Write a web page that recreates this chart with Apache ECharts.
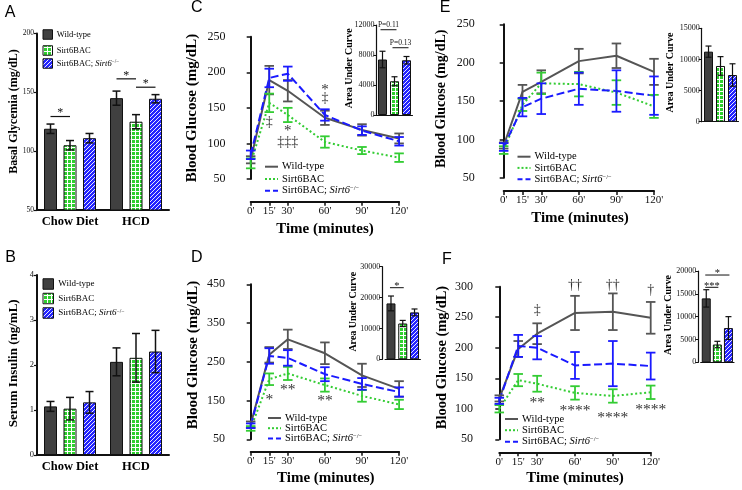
<!DOCTYPE html>
<html>
<head>
<meta charset="utf-8">
<script src="https://cdn.jsdelivr.net/npm/echarts@6.0.0/dist/echarts.min.js"></script>
<style>
html,body{margin:0;padding:0;background:#fff;}
#chart{width:742px;height:490px;}
</style>
</head>
<body>
<div id="chart"></div>
<script>
// ---------------- data ----------------
const groupLabels = ['Wild-type', 'Sirt6BAC', 'Sirt6BAC; {i|Sirt6}{s|−/−}'];
const dietCategories = ['Chow Diet', 'HCD'];

const basalTicks = [50, 100, 150, 200];
const basalWT = [119, 145];
const basalWTErr = [4, 6];
const basalBAC = [105, 125];
const basalBACErr = [4, 6];
const basalKO = [111, 144.5];
const basalKOErr = [4, 3.5];
// [category, fromBar, toBar, y, label]
const basalSig = [[0, 0, 1, 129.4, '*'], [1, 0, 1, 161.4, '*'], [1, 1, 2, 154.3, '*']];

const insulinTicks = [0, 1, 2, 3, 4];
const insulinWT = [1.08, 2.07];
const insulinWTErr = [0.11, 0.31];
const insulinBAC = [1.03, 2.16];
const insulinBACErr = [0.25, 0.54];
const insulinKO = [1.17, 2.30];
const insulinKOErr = [0.24, 0.47];

const timePoints = [0, 15, 30, 60, 90, 120];
const timeLabels = ["0'", "15'", "30'", "60'", "90'", "120'"];
const aucGroups = ['Wild-type', 'Sirt6BAC', 'Sirt6BAC; Sirt6-/-'];

// panel C
const cYTicks = [50, 100, 150, 200, 250];
const cWT = [77, 189, 174, 136, 119, 107];
const cWTErr = [5, 20, 15, 10, 8, 7];
const cBAC = [72, 157, 140, 102, 90, 80];
const cBACErr = [7, 13, 10, 8, 5, 6];
const cKO = [84, 192, 198, 140, 118, 103];
const cKOErr = [6, 13, 10, 8, 6, 6];
const cMarks = [[15, 130, '‡'], [30, 121.7, '*'], [30, 102, '‡‡‡'], [60, 179, '*'], [60, 164, '‡']];
const cAUCTicks = [0, 4000, 8000, 12000];
const cAUC = [7400, 4500, 7300];
const cAUCErr = [1100, 600, 500];
const cAUCSig = [[0, 1, 11370, 'P=0.11'], [1, 2, 8970, 'P=0.13']];

// panel D
const dYTicks = [50, 150, 250, 350, 450];
const dWT = [88, 268, 308, 272, 215, 180];
const dWTErr = [8, 20, 25, 28, 30, 20];
const dBAC = [78, 205, 220, 190, 162, 140];
const dBACErr = [6, 15, 17, 17, 15, 12];
const dKO = [85, 265, 260, 218, 193, 172];
const dKOErr = [6, 20, 20, 18, 15, 12];
const dMarks = [[15, 160, '*'], [30, 186, '**'], [60, 156, '**']];
const dAUCTicks = [0, 10000, 20000, 30000];
const dAUC = [18100, 11600, 15200];
const dAUCErr = [2400, 1000, 1100];
const dAUCSig = [[0, 1, 23200, '*']];

// panel E
const eYTicks = [50, 100, 150, 200, 250];
const eWT = [92, 162, 175, 202, 209, 188];
const eWTErr = [4, 9, 15, 16, 16, 17];
const eBAC = [86, 145, 173, 172, 161, 143];
const eBACErr = [5, 8, 14, 16, 16, 15];
const eKO = [90, 142, 153, 166, 163, 157];
const eKOErr = [5, 12, 20, 21, 27, 25];
const eAUCTicks = [0, 5000, 10000, 15000];
const eAUC = [11250, 8950, 7500];
const eAUCErr = [900, 1500, 1800];

// panel F
const fYTicks = [50, 100, 150, 200, 250, 300];
const fWT = [117, 198, 223, 257, 259, 249];
const fWTErr = [5, 13, 17, 28, 30, 26];
const fBAC = [100, 147, 141, 126, 121, 127];
const fBACErr = [6, 10, 13, 11, 11, 11];
const fKO = [113, 203, 200, 171, 174, 170];
const fKOErr = [5, 18, 19, 22, 37, 22];
const fMarks = [[30, 261.8, '‡'], [60, 301.6, '††'], [90, 301.6, '††'], [120, 293.5, '†'],
                [30, 114.4, '**'], [60, 100.8, '****'], [90, 90, '****'], [120, 103.4, '****']];
const fAUCTicks = [0, 5000, 10000, 15000, 20000];
const fAUC = [14000, 3900, 7500];
const fAUCErr = [1900, 700, 2500];
const fAUCSig = [[0, 1, 16430, '***'], [0, 2, 19120, '*']];

// ---------------- styles ----------------
const SERIF = 'Liberation Serif';
const GRAY = '#555555', GREEN = '#33cc33', BLUE = '#1a1aff', BARGRAY = '#404040';

function makeGreenPattern() {
  const c = document.createElement('canvas'); c.width = 4; c.height = 4;
  const g = c.getContext('2d');
  g.fillStyle = '#2fcf2f'; g.fillRect(0, 0, 4, 4);
  g.fillStyle = '#ffffff'; g.fillRect(3, 0, 1, 4); g.fillRect(0, 3, 4, 1);
  return c;
}
function makeBluePattern() {
  const c = document.createElement('canvas'); c.width = 4; c.height = 4;
  const g = c.getContext('2d');
  g.fillStyle = '#2424ff'; g.fillRect(0, 0, 4, 4);
  g.strokeStyle = '#ffffff'; g.lineWidth = 0.9;
  g.beginPath();
  g.moveTo(-1, 5); g.lineTo(5, -1);
  g.moveTo(-1, 1); g.lineTo(1, -1);
  g.moveTo(3, 5); g.lineTo(5, 3);
  g.stroke();
  return c;
}
const patG = {image: makeGreenPattern(), repeat: 'repeat'};
const patB = {image: makeBluePattern(), repeat: 'repeat'};
const barFills = [BARGRAY, patG, patB];

const grids = [
  {left: 37, top: 33.4, width: 132, height: 176.6},      // A
  {left: 37, top: 275, width: 132, height: 180},         // B
  {left: 250.7, top: 36.7, width: 148.4, height: 142.3}, // C
  {left: 376.5, top: 25, width: 36, height: 90},         // C inset
  {left: 250.7, top: 284.3, width: 148.4, height: 155},  // D
  {left: 385.1, top: 266.7, width: 35.3, height: 92.6},  // D inset
  {left: 503.7, top: 24.3, width: 150.3, height: 153.4}, // E
  {left: 702.5, top: 28.3, width: 36, height: 93.4},     // E inset
  {left: 499.3, top: 286.7, width: 151.4, height: 152.6},// F
  {left: 700.7, top: 271, width: 33.3, height: 91.3}     // F inset
].map(g => Object.assign({outerBoundsMode: 'none', containLabel: false}, g));

function valueY(gi, ticks, opt) {
  const step = ticks[1] - ticks[0];
  const a = {
    gridIndex: gi, type: 'value', min: ticks[0], max: ticks[ticks.length - 1],
    offset: opt.offset || 0,
    axisLine: {show: true, lineStyle: {color: '#111', width: opt.lw || 2}},
    axisTick: {show: true, length: opt.tl || 4, customValues: ticks, lineStyle: {color: '#111', width: opt.tw || 1.5}},
    axisLabel: {customValues: ticks, formatter: v => String(v), fontFamily: SERIF, fontSize: opt.fs, color: '#111', margin: opt.margin || 3},
    splitLine: {show: false}
  };
  if (ticks[0] % step === 0) a.interval = step;
  return a;
}
function timeX(gi, offset) {
  return {
    gridIndex: gi, type: 'value', min: timePoints[0], max: timePoints[timePoints.length - 1], offset: offset,
    axisLine: {show: true, lineStyle: {color: '#111', width: 2}},
    axisTick: {show: true, length: 4, customValues: timePoints, lineStyle: {color: '#111', width: 1.5}},
    axisLabel: {customValues: timePoints, formatter: v => timeLabels[timePoints.indexOf(v)] || '',
      fontFamily: SERIF, fontSize: 11, color: '#111', margin: 4},
    splitLine: {show: false}
  };
}
function catX(gi, cats, showLabel) {
  return {
    gridIndex: gi, type: 'category', data: cats,
    axisLine: {show: true, lineStyle: {color: '#111', width: showLabel ? 2 : 1.2}},
    axisTick: {show: false},
    axisLabel: {show: showLabel, interval: 0, hideOverlap: false, fontFamily: SERIF, fontWeight: 'bold', fontSize: 12.5, color: '#000', margin: 5},
    splitLine: {show: false}
  };
}

function errBars(xi, yi, xs, means, errs, color, capW, lw, offset) {
  return {
    type: 'custom', xAxisIndex: xi, yAxisIndex: yi, z: 5, silent: true,
    data: xs.map((x, i) => [x, means[i], errs[i]]),
    renderItem: function (params, api) {
      const x = api.value(0), m = api.value(1), e = api.value(2);
      const p1 = api.coord([x, m + e]), p2 = api.coord([x, m - e]);
      const cx = p1[0] + (offset || 0);
      const st = () => ({stroke: color, lineWidth: lw});
      return {type: 'group', children: [
        {type: 'line', shape: {x1: cx, y1: p1[1], x2: cx, y2: p2[1]}, style: st()},
        {type: 'line', shape: {x1: cx - capW / 2, y1: p1[1], x2: cx + capW / 2, y2: p1[1]}, style: st()},
        {type: 'line', shape: {x1: cx - capW / 2, y1: p2[1], x2: cx + capW / 2, y2: p2[1]}, style: st()}
      ]};
    }
  };
}
function lineSeries(xi, yi, name, vals, color, dash) {
  return {
    type: 'line', name: name, xAxisIndex: xi, yAxisIndex: yi, z: 4,
    data: timePoints.map((t, i) => [t, vals[i]]),
    symbol: 'none', lineStyle: {color: color, width: 2, type: dash || 'solid'},
    silent: true
  };
}
function markSeries(xi, yi, marks, fs, starFs) {
  return {
    type: 'custom', xAxisIndex: xi, yAxisIndex: yi, z: 6, silent: true,
    data: marks.map(m => [m[0], m[1]]),
    renderItem: function (params, api) {
      const p = api.coord([api.value(0), api.value(1)]);
      const t = marks[params.dataIndex][2];
      const star = t.indexOf('*') >= 0;
      const size = star ? (starFs || fs) : fs;
      return {type: 'text', x: p[0], y: p[1] + (star ? size * 0.2 : 0),
        style: {text: t, fontFamily: SERIF, fontSize: size, fill: '#333', textAlign: 'center', textVerticalAlign: 'middle'}};
    }
  };
}
const BAR_PITCH = 19.5;
function basalSigSeries(xi, yi, sig) {
  return {
    type: 'custom', xAxisIndex: xi, yAxisIndex: yi, z: 6, silent: true,
    data: sig.map(s => [s[0], s[3]]),
    renderItem: function (params, api) {
      const s = sig[params.dataIndex];
      const p = api.coord([api.value(0), api.value(1)]);
      const x1 = p[0] + (s[1] - 1) * BAR_PITCH, x2 = p[0] + (s[2] - 1) * BAR_PITCH;
      return {type: 'group', children: [
        {type: 'line', shape: {x1: x1, y1: p[1], x2: x2, y2: p[1]}, style: {stroke: '#111', lineWidth: 1.2}},
        {type: 'text', x: (x1 + x2) / 2, y: p[1] - 3.5,
          style: {text: s[4], fontFamily: SERIF, fontSize: 12, fill: '#111', textAlign: 'center', textVerticalAlign: 'middle'}}
      ]};
    }
  };
}
function aucSigSeries(xi, yi, sig, ext) {
  return {
    type: 'custom', xAxisIndex: xi, yAxisIndex: yi, z: 6, silent: true,
    data: sig.map(s => [s[0], s[2]]),
    renderItem: function (params, api) {
      const s = sig[params.dataIndex];
      const p1 = api.coord([s[0], s[2]]), p2 = api.coord([s[1], s[2]]);
      const star = s[3].indexOf('*') >= 0;
      return {type: 'group', children: [
        {type: 'line', shape: {x1: p1[0] - ext, y1: p1[1], x2: p2[0] + ext, y2: p1[1]}, style: {stroke: '#111', lineWidth: 1}},
        {type: 'text', x: (p1[0] + p2[0]) / 2, y: p1[1] - (star ? 1.5 : 1),
          style: {text: s[3], fontFamily: SERIF, fontSize: star ? 10.5 : 7.5, fill: '#111', textAlign: 'center', textVerticalAlign: star ? 'middle' : 'bottom'}}
      ]};
    }
  };
}
function groupedBars(xi, yi, vals, fillIdx) {
  return {
    type: 'bar', xAxisIndex: xi, yAxisIndex: yi, data: vals, barWidth: 13, barGap: '50%', z: 3, silent: true,
    itemStyle: {color: barFills[fillIdx], borderColor: '#111', borderWidth: 1}
  };
}
function aucBars(xi, yi, vals) {
  return {
    type: 'bar', xAxisIndex: xi, yAxisIndex: yi, barWidth: 9, z: 3, silent: true,
    data: vals.map((v, i) => ({value: v, itemStyle: {color: barFills[i], borderColor: '#111', borderWidth: 1}}))
  };
}

// ---------------- graphic (titles, legends, letters) ----------------
function txt(x, y, text, font, rot) {
  return {type: 'text', x: x, y: y, rotation: rot ? Math.PI / 2 : 0, silent: true,
    style: {text: text, font: font, fill: '#000', textAlign: 'center', textVerticalAlign: 'middle'}};
}
function richStyle(fs) {
  return {
    i: {fontFamily: SERIF, fontSize: fs, fontStyle: 'italic', fill: '#000'},
    s: {fontFamily: SERIF, fontSize: fs * 0.62, fill: '#000', verticalAlign: 'top'}
  };
}
function lineLegend(x, ys, fs) {
  const st = [{c: GRAY, d: null}, {c: GREEN, d: [2, 2]}, {c: BLUE, d: [5, 3]}];
  const out = [];
  ys.forEach((yy, i) => {
    out.push({type: 'line', silent: true, shape: {x1: x, y1: yy, x2: x + 13, y2: yy},
      style: {stroke: st[i].c, lineWidth: 2, lineDash: st[i].d}});
    out.push({type: 'text', x: x + 17, y: yy, silent: true,
      style: {text: groupLabels[i], fontFamily: SERIF, fontSize: fs, fill: '#000',
        textAlign: 'left', textVerticalAlign: 'middle', rich: richStyle(fs)}});
  });
  return out;
}
function barLegend(x, ys, sw, fs, tx) {
  const out = [];
  ys.forEach((yy, i) => {
    out.push({type: 'rect', silent: true, shape: {x: x, y: yy - sw / 2, width: sw, height: sw},
      style: {fill: barFills[i], stroke: '#111', lineWidth: 1}});
    out.push({type: 'text', x: tx, y: yy, silent: true,
      style: {text: groupLabels[i], fontFamily: SERIF, fontSize: fs, fill: '#000',
        textAlign: 'left', textVerticalAlign: 'middle', rich: richStyle(fs)}});
  });
  return out;
}

const LETTER = '16px "Liberation Sans"';
const graphics = [
  txt(10, 12.5, 'A', LETTER), txt(10.5, 258, 'B', LETTER),
  txt(196.7, 7.5, 'C', LETTER), txt(196.7, 257.5, 'D', LETTER),
  txt(445, 7.7, 'E', LETTER), txt(447, 259.2, 'F', LETTER),
  txt(14.2, 111.5, 'Basal Glycemia (mg/dL)', 'bold 12px "Liberation Serif"', true),
  txt(14, 363.3, 'Serum Insulin (ng/mL)', 'bold 13px "Liberation Serif"', true),
  txt(192.5, 108, 'Blood Glucose (mg/dL)', 'bold 15px "Liberation Serif"', true),
  txt(192.7, 355, 'Blood Glucose (mg/dL)', 'bold 15px "Liberation Serif"', true),
  txt(441, 98.8, 'Blood Glucose (mg/dL)', 'bold 14px "Liberation Serif"', true),
  txt(442.7, 357.5, 'Blood Glucose (mg/dL)', 'bold 14.5px "Liberation Serif"', true),
  txt(325, 229.3, 'Time (minutes)', 'bold 15px "Liberation Serif"'),
  txt(325.8, 478.3, 'Time (minutes)', 'bold 15px "Liberation Serif"'),
  txt(580, 218.3, 'Time (minutes)', 'bold 15px "Liberation Serif"'),
  txt(575, 478.3, 'Time (minutes)', 'bold 15px "Liberation Serif"'),
  txt(349, 68.3, 'Area Under Curve', 'bold 10px "Liberation Serif"', true),
  txt(353, 311.7, 'Area Under Curve', 'bold 10px "Liberation Serif"', true),
  txt(670, 72.5, 'Area Under Curve', 'bold 10px "Liberation Serif"', true),
  txt(668.7, 315, 'Area Under Curve', 'bold 10px "Liberation Serif"', true)
].concat(
  barLegend(43, [34.5, 50.5, 63.5], 9.5, 8.5, 56.7),
  barLegend(43, [284, 298.5, 313], 10.5, 9, 58.3),
  lineLegend(265, [166.7, 179, 190.7], 10.5),
  lineLegend(268, [418, 428.2, 438.5], 10.5),
  lineLegend(517.5, [156.7, 167.9, 179.3], 10.5),
  lineLegend(505, [419, 430.2, 441.7], 10.5)
);

// ---------------- option ----------------
const xAxes = [
  catX(0, dietCategories, true), catX(1, dietCategories, true),
  timeX(2, 22.7), catX(3, aucGroups, false),
  timeX(4, 12.4), catX(5, aucGroups, false),
  timeX(6, 13.3), catX(7, aucGroups, false),
  timeX(8, 13), catX(9, aucGroups, false)
];
const yAxes = [
  valueY(0, basalTicks, {fs: 7.5, tl: 3, tw: 1.2}),
  valueY(1, insulinTicks, {fs: 8.5, tl: 3, tw: 1.2}),
  valueY(2, cYTicks, {fs: 12, offset: 22.3}),
  valueY(3, cAUCTicks, {fs: 8, lw: 1.2, tl: 3, tw: 1, margin: 2}),
  valueY(4, dYTicks, {fs: 12, offset: 22.7}),
  valueY(5, dAUCTicks, {fs: 8, lw: 1.2, tl: 3, tw: 1, margin: 2, offset: 2.8}),
  valueY(6, eYTicks, {fs: 12, offset: 26}),
  valueY(7, eAUCTicks, {fs: 8, lw: 1.2, tl: 3, tw: 1, margin: 2, offset: 0.8}),
  valueY(8, fYTicks, {fs: 12, offset: 23.3}),
  valueY(9, fAUCTicks, {fs: 8, lw: 1.2, tl: 3, tw: 1, margin: 2, offset: 2.4})
];

const series = [
  // A
  groupedBars(0, 0, basalWT, 0), groupedBars(0, 0, basalBAC, 1), groupedBars(0, 0, basalKO, 2),
  errBars(0, 0, [0, 1], basalWT, basalWTErr, '#111', 8, 1.5, -BAR_PITCH),
  errBars(0, 0, [0, 1], basalBAC, basalBACErr, '#111', 8, 1.5, 0),
  errBars(0, 0, [0, 1], basalKO, basalKOErr, '#111', 8, 1.5, BAR_PITCH),
  basalSigSeries(0, 0, basalSig),
  // B
  groupedBars(1, 1, insulinWT, 0), groupedBars(1, 1, insulinBAC, 1), groupedBars(1, 1, insulinKO, 2),
  errBars(1, 1, [0, 1], insulinWT, insulinWTErr, '#111', 8, 1.5, -BAR_PITCH),
  errBars(1, 1, [0, 1], insulinBAC, insulinBACErr, '#111', 8, 1.5, 0),
  errBars(1, 1, [0, 1], insulinKO, insulinKOErr, '#111', 8, 1.5, BAR_PITCH)
];
function glucosePanel(xi, yi, wt, wtE, bac, bacE, ko, koE) {
  return [
    errBars(xi, yi, timePoints, wt, wtE, GRAY, 9.5, 1.8, 0),
    errBars(xi, yi, timePoints, bac, bacE, GREEN, 9.5, 1.8, 0),
    errBars(xi, yi, timePoints, ko, koE, BLUE, 9.5, 1.8, 0),
    lineSeries(xi, yi, 'Wild-type', wt, GRAY),
    lineSeries(xi, yi, 'Sirt6BAC', bac, GREEN, [2, 2.5]),
    lineSeries(xi, yi, 'Sirt6BAC; Sirt6-/-', ko, BLUE, [8, 3.5])
  ];
}
function aucPanel(xi, yi, vals, errs) {
  return [aucBars(xi, yi, vals), errBars(xi, yi, [0, 1, 2], vals, errs, '#111', 6, 1.2, 0)];
}
series.push(
  ...glucosePanel(2, 2, cWT, cWTErr, cBAC, cBACErr, cKO, cKOErr),
  markSeries(2, 2, cMarks, 14, 15),
  ...aucPanel(3, 3, cAUC, cAUCErr), aucSigSeries(3, 3, cAUCSig, 2),
  ...glucosePanel(4, 4, dWT, dWTErr, dBAC, dBACErr, dKO, dKOErr),
  markSeries(4, 4, dMarks, 15, 15.5),
  ...aucPanel(5, 5, dAUC, dAUCErr), aucSigSeries(5, 5, dAUCSig, 1),
  ...glucosePanel(6, 6, eWT, eWTErr, eBAC, eBACErr, eKO, eKOErr),
  ...aucPanel(7, 7, eAUC, eAUCErr),
  ...glucosePanel(8, 8, fWT, fWTErr, fBAC, fBACErr, fKO, fKOErr),
  markSeries(8, 8, fMarks, 14, 15.5),
  ...aucPanel(9, 9, fAUC, fAUCErr), aucSigSeries(9, 9, fAUCSig, 1)
);

const chart = echarts.init(document.getElementById('chart'), null, {renderer: 'canvas', width: 742, height: 490});
chart.setOption({
  animation: false,
  backgroundColor: '#ffffff',
  grid: grids,
  xAxis: xAxes,
  yAxis: yAxes,
  series: series,
  graphic: {elements: graphics}
});
</script>
</body>
</html>
